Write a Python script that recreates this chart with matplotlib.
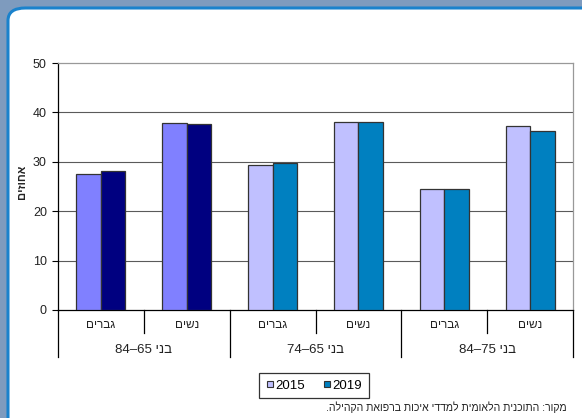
import re
import numpy as np
import matplotlib
matplotlib.use("Agg")
import matplotlib.pyplot as plt
import matplotlib.patches as patches
from matplotlib.lines import Line2D
import matplotlib.transforms as mtransforms

plt.rcParams['font.family'] = ['Liberation Sans', 'DejaVu Sans']

# data
groups = ['בני 65–84', 'בני 65–74', 'בני 75–84']
sexes = ['גברים', 'נשים']
years = ['2015', '2019']
vals_2015 = [27.6, 37.8, 29.3, 38.0, 24.5, 37.3]
vals_2019 = [28.1, 37.6, 29.8, 38.0, 24.4, 36.3]
colors_2015 = ['#8080FF', '#8080FF', '#C0C0FF', '#C0C0FF', '#C0C0FF', '#C0C0FF']
colors_2019 = ['#000080', '#000080', '#0080C0', '#0080C0', '#0080C0', '#0080C0']
y_label = 'אחוזים'
source = 'מקור: התוכנית הלאומית למדדי איכות ברפואת הקהילה.'


def vis(s):
    # crude rtl -> visual order: keep digit runs, flip the rest
    parts = re.findall(r'\d+|\D', s)
    return ''.join(parts[::-1])


W, H = 582, 418
fig = plt.figure(figsize=(W / 100, H / 100), dpi=100)
fig.patch.set_facecolor('#7E9BBE')

panel = patches.FancyBboxPatch((8 / W, -0.2), 1.3, (H - 8) / H + 0.2,
                               boxstyle='round,pad=0,rounding_size=0.03',
                               transform=fig.transFigure, facecolor='white',
                               edgecolor='#1A82CC', linewidth=2.2, zorder=-10)
fig.patches.append(panel)

x0, x1, ytop, y0 = 58, 573, 63, 310
ax = fig.add_axes([x0 / W, (H - y0) / H, (x1 - x0) / W, (y0 - ytop) / H])
ax.set_facecolor('none')

n = len(vals_2015)
x = np.arange(n) + 0.5
w = 0.285
ax.bar(x - w / 2, vals_2015, w, color=colors_2015, edgecolor='#333333', linewidth=0.9, zorder=3)
ax.bar(x + w / 2, vals_2019, w, color=colors_2019, edgecolor='#333333', linewidth=0.9, zorder=3)

ax.set_xlim(0, n)
ax.set_ylim(0, 50)
ax.set_yticks(np.arange(0, 51, 10))
ax.tick_params(axis='y', direction='out', length=4, width=0.8, labelsize=9, pad=4,
               colors='black', labelcolor='#222222')
ax.set_xticks([])
for yv in [10, 20, 30, 40]:
    ax.axhline(yv, color='#5a5a5a', lw=0.8, zorder=1)
ax.spines['left'].set_color('black')
ax.spines['bottom'].set_color('black')
ax.spines['top'].set_color('#999999')
ax.spines['right'].set_color('#999999')
for s in ax.spines.values():
    s.set_linewidth(0.9)

# two level category axis
trans = mtransforms.blended_transform_factory(ax.transData, fig.transFigure)
for i in range(n + 1):
    depth = 357 if i % 2 == 0 else 333
    ax.plot([i, i], [(H - y0) / H, (H - depth) / H], color='black', lw=0.9,
            transform=trans, clip_on=False)
for i in range(n):
    ax.text(x[i], (H - 325) / H, vis(sexes[i % 2]), transform=trans,
            ha='center', va='center', fontsize=8.5, color='#222222')
for g in range(len(groups)):
    ax.text(2 * g + 1, (H - 350) / H, vis(groups[g]), transform=trans,
            ha='center', va='center', fontsize=9.5, color='#222222')

fig.text(22 / W, (H - 182) / H, vis(y_label), rotation=90, ha='center', va='center',
         fontsize=8, fontweight='bold', color='#222222')

handles = [Line2D([], [], marker='s', ls='none', markersize=4.8, markerfacecolor=colors_2015[-1],
                  markeredgecolor='#333333', markeredgewidth=0.8),
           Line2D([], [], marker='s', ls='none', markersize=4.8, markerfacecolor=colors_2019[-1],
                  markeredgecolor='#333333', markeredgewidth=0.8)]
leg = fig.legend(handles, years, loc='center', bbox_to_anchor=(314 / W, (H - 385.5) / H),
                 ncol=2, fontsize=9.5, frameon=True, fancybox=False, handlelength=0.6,
                 handletextpad=0.15, columnspacing=1.3, borderpad=0.5, borderaxespad=0)
leg.get_frame().set_edgecolor('black')
leg.get_frame().set_linewidth(0.9)

fig.text(567 / W, (H - 407) / H, vis(source), ha='right', va='center', fontsize=7.6,
         color='#222222')

fig.savefig('out.png', dpi=100)
